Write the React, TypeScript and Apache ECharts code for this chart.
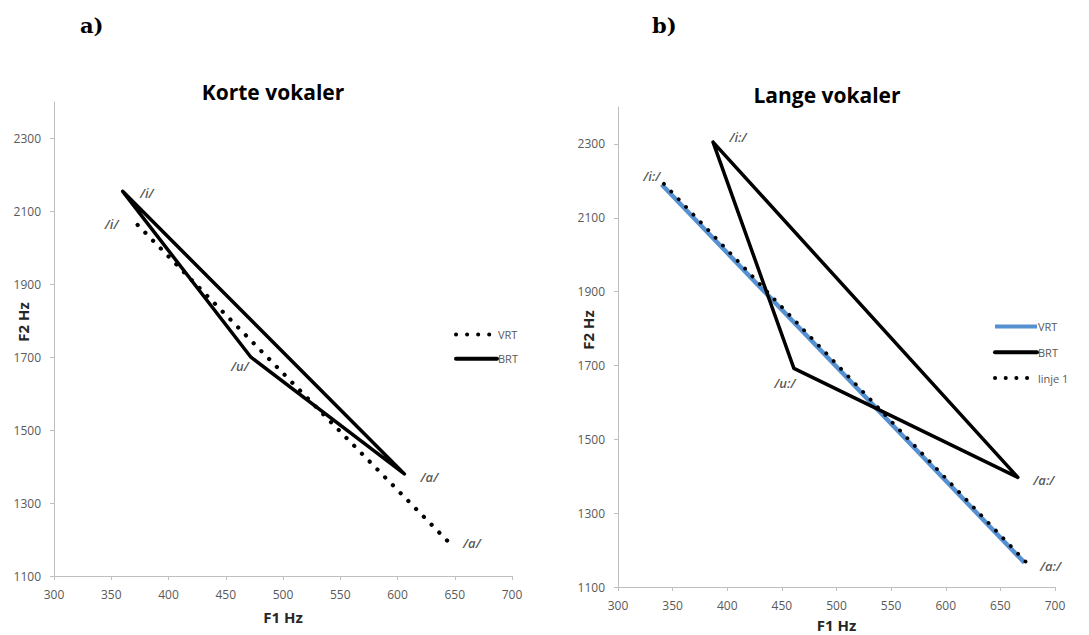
import React, { useEffect, useRef } from "react";
import * as echarts from "echarts";

// ---------- data ----------
const yTickValues = [1100, 1300, 1500, 1700, 1900, 2100, 2300];

// a) Korte vokaler (F1, F2)
const kortVRT = [
  [373, 2063],
  [644, 1195],
];
const kortVRTLabels = ["/i/", "/a/"];
const kortBRT = [
  [360, 2155],
  [472, 1700],
  [606, 1380],
  [360, 2155],
];
const kortBRTLabels = ["/i/", "/u/", "/a/"];

// b) Lange vokaler (F1, F2)
const langVRT = [
  [340, 2190],
  [672, 1166],
];
const langVRTLabels = ["/i:/", "/a:/"];
const langBRT = [
  [387, 2305],
  [461, 1692],
  [666, 1397],
  [387, 2305],
];
const langBRTLabels = ["/i:/", "/u:/", "/a:/"];
const langLinje1 = [
  [342, 2192],
  [673, 1169],
];

// label offsets (px) – layout only
const kortVRTOffsets = [[-26, -1], [24, 2]];
const kortBRTOffsets = [[24, 2], [-11, 9], [25, 3]];
const langVRTOffsets = [[-10, -9], [26, 3]];
const langBRTOffsets = [[25, -5], [-9, 15], [26, 3]];

const SANS = "'Open Sans', 'Liberation Sans', sans-serif";

function labelSeries(points: number[][], labels: string[], offsets: number[][]) {
  return {
    type: "scatter",
    name: "_labels",
    silent: true,
    symbolSize: 1,
    itemStyle: { color: "rgba(0,0,0,0)" },
    z: 10,
    data: labels.map((t, i) => ({
      value: points[i],
      label: {
        show: true,
        position: "inside",
        offset: offsets[i],
        formatter: t,
        fontStyle: "italic",
        fontWeight: 600,
        fontFamily: SANS,
        fontSize: 13,
        color: "#2b2b2b",
      },
    })),
  };
}

function axes(nameGapX: number, nameGapY: number) {
  const axisLineStyle = { color: "#bfbfbf", width: 1 };
  return {
    xAxis: {
      type: "value",
      min: 300,
      max: 700,
      interval: 50,
      splitLine: { show: false },
      axisLine: { show: true, onZero: false, lineStyle: axisLineStyle },
      axisTick: { show: true, length: 4, lineStyle: axisLineStyle },
      axisLabel: { color: "#595959", fontSize: 12, margin: 12, fontFamily: SANS },
      name: "F1 Hz",
      nameLocation: "middle",
      nameGap: nameGapX,
      nameMoveOverlap: false,
      nameTextStyle: {
        fontWeight: "bold",
        fontSize: 15,
        lineHeight: 15,
        color: "#262626",
        fontFamily: SANS,
      },
    },
    yAxis: {
      type: "value",
      min: 1100,
      max: 2400,
      splitLine: { show: false },
      axisLine: { show: true, onZero: false, lineStyle: axisLineStyle },
      axisTick: { show: true, length: 4, lineStyle: axisLineStyle, customValues: yTickValues },
      axisLabel: {
        color: "#595959",
        fontSize: 12,
        margin: 13,
        fontFamily: SANS,
        customValues: yTickValues,
        formatter: (v: number) => String(v),
      },
      name: "F2 Hz",
      nameLocation: "middle",
      nameGap: nameGapY,
      nameMoveOverlap: false,
      nameTextStyle: {
        fontWeight: "bold",
        fontSize: 15,
        lineHeight: 15,
        color: "#262626",
        fontFamily: SANS,
        padding: [0, 0, 0, 34],
      },
    },
  };
}

function headerGraphics(letter: string, letterX: number, title: string, titleX: number, titleY: number) {
  return [
    {
      type: "text",
      x: letterX,
      y: 25,
      style: {
        text: letter,
        font: "bold 21px 'DejaVu Serif', 'Liberation Serif', serif",
        fill: "#000",
        align: "left",
        verticalAlign: "middle",
      },
    },
    {
      type: "text",
      x: titleX,
      y: titleY,
      style: {
        text: title,
        font: `bold 21px ${SANS}`,
        fill: "#000",
        align: "center",
        verticalAlign: "middle",
      },
    },
  ];
}

const legendBase = {
  orient: "vertical",
  itemHeight: 14,
  lineStyle: { width: 4 },
  itemStyle: { opacity: 0 },
  textStyle: { color: "#595959", fontSize: 11, fontFamily: SANS, padding: [0, 0, 0, -4] },
};

const leftOption = {
  animation: false,
  grid: { left: 54, right: 33, top: 102, bottom: 59, containLabel: false, outerBoundsMode: "none" },
  ...axes(33, 24),
  graphic: headerGraphics("a)", 80, "Korte vokaler", 273, 92),
  legend: {
    ...legendBase,
    left: 449,
    top: 324,
    itemWidth: 41,
    itemGap: 13,
    data: ["VRT", "BRT"],
  },
  series: [
    {
      type: "line",
      name: "VRT",
      data: kortVRT,
      symbol: "none",
      itemStyle: { color: "#000" },
      lineStyle: { color: "#000", width: 4.2, type: [0.1, 10.95], cap: "round" },
    },
    {
      type: "line",
      name: "BRT",
      data: kortBRT,
      symbol: "none",
      itemStyle: { color: "#000" },
      lineStyle: { color: "#000", width: 3.5, join: "round", cap: "round" },
    },
    labelSeries(kortVRT, kortVRTLabels, kortVRTOffsets),
    labelSeries(kortBRT, kortBRTLabels, kortBRTOffsets),
  ],
};

const rightOption = {
  animation: false,
  grid: { left: 73, right: 34, top: 107, bottom: 48, containLabel: false, outerBoundsMode: "none" },
  ...axes(30, 23),
  graphic: headerGraphics("b)", 107, "Lange vokaler", 282, 95),
  legend: {
    ...legendBase,
    left: 443,
    top: 316,
    itemWidth: 42,
    itemGap: 14.5,
    data: ["VRT", "BRT", "linje 1"],
  },
  series: [
    {
      type: "line",
      name: "VRT",
      data: langVRT,
      symbol: "none",
      itemStyle: { color: "#5591d0" },
      lineStyle: { color: "#5591d0", width: 4.5 },
    },
    {
      type: "line",
      name: "BRT",
      data: langBRT,
      symbol: "none",
      itemStyle: { color: "#000" },
      lineStyle: { color: "#000", width: 3.5, join: "round", cap: "round" },
    },
    {
      type: "line",
      name: "linje 1",
      data: langLinje1,
      symbol: "none",
      itemStyle: { color: "#000" },
      lineStyle: { color: "#000", width: 3.8, type: [0.1, 10.57], cap: "round" },
    },
    labelSeries(langVRT, langVRTLabels, langVRTOffsets),
    labelSeries(langBRT, langBRTLabels, langBRTOffsets),
  ],
};

function Chart({ option, style }: { option: any; style: React.CSSProperties }) {
  const ref = useRef<HTMLDivElement>(null);
  useEffect(() => {
    if (!ref.current) return;
    const chart = echarts.init(ref.current, undefined, { renderer: "svg" });
    chart.setOption(option);
    return () => chart.dispose();
  }, [option]);
  return <div ref={ref} style={style} />;
}

export default function App() {
  return (
    <div
      style={{
        position: "absolute",
        left: 0,
        top: 0,
        width: 1089,
        height: 635,
        background: "#fff",
      }}
    >
      <Chart option={leftOption} style={{ position: "absolute", left: 0, top: 0, width: 545, height: 635 }} />
      <Chart option={rightOption} style={{ position: "absolute", left: 545, top: 0, width: 544, height: 635 }} />
    </div>
  );
}
